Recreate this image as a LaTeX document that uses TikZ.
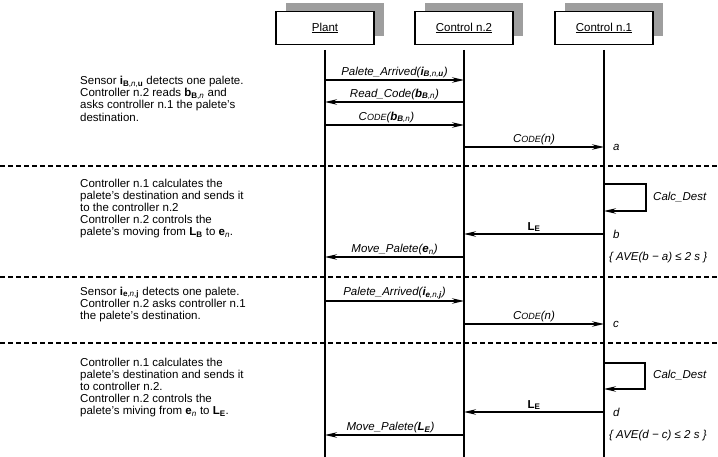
\documentclass[tikz,border=0pt]{standalone}
\usepackage{fontspec}
\setmainfont{Liberation Sans}
\usetikzlibrary{arrows.meta,shadows}
\newcommand{\smcode}{C{\fontsize{9}{10}\selectfont ODE}}
\begin{document}
\begin{tikzpicture}[x=1pt,y=-1pt,
  obj/.style={draw, line width=1.1pt, fill=white, minimum width=98pt, minimum height=33pt, inner sep=0pt,
    font=\fontsize{11.5}{13}\selectfont,
    drop shadow={shadow xshift=10pt, shadow yshift=8pt, fill=black!38, opacity=1}},
  life/.style={line width=1.1pt},
  msg/.style={line width=1.1pt, -{Stealth[length=12pt,width=5.5pt,inset=4pt]}},
  loopmsg/.style={line width=1.1pt, -{Stealth[length=12pt,width=5.5pt,inset=4pt]}},
  lbl/.style={font=\fontsize{11.5}{13}\selectfont\itshape, inner sep=1.5pt},
  sep/.style={dash pattern=on 5pt off 3pt, line width=1.2pt},
  desc/.style={anchor=north west, align=left, inner sep=0pt, font=\fontsize{11.5}{12.2}\selectfont},
  tag/.style={anchor=west, font=\fontsize{11.5}{13}\selectfont\itshape, inner sep=0pt},
]
\useasboundingbox (0,0) rectangle (718,457);

% objects
\node[obj] (plant) at (325,28) {\underline{Plant}};
\node[obj] (ctwo) at (464,28) {\underline{Control n.2}};
\node[obj] (cone) at (604,28) {\underline{Control n.1}};

% lifelines
\coordinate (pT) at (325,50); \coordinate (pB) at (325,457);
\coordinate (tT) at (464,50); \coordinate (tB) at (464,457);
\coordinate (oT) at (604,50); \coordinate (oB) at (604,457);
\draw[life] (pT) -- (pB);
\draw[life] (tT) -- (tB);
\draw[life] (oT) -- (oB);

% separators
\draw[sep] (0,166) -- (718,166);
\draw[sep] (0,277) -- (718,277);
\draw[sep] (0,343) -- (718,343);

% descriptions
\node[desc] (d1) at (80,76) {Sensor \textbf{i}\textsubscript{\textbf{B},\textit{n},\textbf{u}} detects one palete.\\
Controller n.2 reads \textbf{b}\textsubscript{\textbf{B},\textit{n}} and\\
asks controller n.1 the palete's\\
destination.};
\node[desc] (d2) at (80,178.5) {Controller n.1 calculates the\\
palete's destination and sends it\\
to the controller n.2\\
Controller n.2 controls the\\
palete's moving from \textbf{L}\textsubscript{\textbf{B}} to \textbf{e}\textsubscript{\textit{n}}.};
\node[desc] (d3) at (80,286.5) {Sensor \textbf{i}\textsubscript{\textbf{e},\textit{n},\textbf{j}} detects one palete.\\
Controller n.2 asks controller n.1\\
the palete's destination.};
\node[desc] (d4) at (80,357.5) {Controller n.1 calculates the\\
palete's destination and sends it\\
to controller n.2.\\
Controller n.2 controls the\\
palete's miving from \textbf{e}\textsubscript{\textit{n}} to \textbf{L}\textsubscript{\textbf{E}}.};

% message endpoints
\coordinate (p1) at (325,80);  \coordinate (c1) at (464,80);
\coordinate (c2) at (464,102); \coordinate (p2) at (325,102);
\coordinate (p3) at (325,125); \coordinate (c3) at (464,125);
\coordinate (c4) at (464,147); \coordinate (n4) at (604,147);
\coordinate (n5a) at (604,184); \coordinate (n5b) at (604,211);
\coordinate (n6) at (604,234); \coordinate (c6) at (464,234);
\coordinate (c7) at (464,257); \coordinate (p7) at (325,257);
\coordinate (p8) at (325,301); \coordinate (c8) at (464,301);
\coordinate (c9) at (464,324); \coordinate (n9) at (604,324);
\coordinate (n10a) at (604,363); \coordinate (n10b) at (604,389);
\coordinate (n11) at (604,412); \coordinate (c11) at (464,412);
\coordinate (c12) at (464,435); \coordinate (p12) at (325,435);

% messages
\draw[msg] (p1) -- node[lbl, above] (m1) {Palete\_Arrived(\textbf{i}\textsubscript{\textbf{B},\textit{n},\textbf{u}})} (c1);
\draw[msg] (c2) -- node[lbl, above] (m2) {Read\_Code(\textbf{b}\textsubscript{\textbf{B},\textit{n}})} (p2);
\draw[msg] (p3) -- node[lbl, above, xshift=-8pt] (m3) {\smcode(\textbf{b}\textsubscript{\textbf{B},\textit{n}})} (c3);
\draw[msg] (c4) -- node[lbl, above] (m4) {\smcode(n)} (n4);
\draw[loopmsg] (n5a) -- ++(42,0) |- (n5b);
\node[tag] (cd1) at (653,197) {Calc\_Dest};
\draw[msg] (n6) -- node[lbl, above, font=\fontsize{11.5}{13}\selectfont] (m6) {\textbf{L}\textsubscript{\textbf{E}}} (c6);
\draw[msg] (c7) -- node[lbl, above] (m7) {Move\_Palete(\textbf{e}\textsubscript{\textit{n}})} (p7);
\draw[msg] (p8) -- node[lbl, above] (m8) {Palete\_Arrived(\textbf{i}\textsubscript{\textbf{e},\textit{n},\textbf{j}})} (c8);
\draw[msg] (c9) -- node[lbl, above] (m9) {\smcode(n)} (n9);
\draw[loopmsg] (n10a) -- ++(41,0) |- (n10b);
\node[tag] (cd2) at (653,375) {Calc\_Dest};
\draw[msg] (n11) -- node[lbl, above, font=\fontsize{11.5}{13}\selectfont] (m11) {\textbf{L}\textsubscript{\textbf{E}}} (c11);
\draw[msg] (c12) -- node[lbl, above, xshift=-4pt] (m12) {Move\_Palete(\textbf{L}\textsubscript{\textbf{E}})} (p12);

% time tags
\node[tag] (ta) at (613,147) {a};
\node[tag] (tb) at (613,234) {b};
\node[tag] (tc) at (613,324) {c};
\node[tag] (td) at (613,412) {d};
\node[tag] (ave1) at (609,258) {\{ AVE(b − a) ≤ 2 s \}};
\node[tag] (ave2) at (609,436) {\{ AVE(d − c) ≤ 2 s \}};
\end{tikzpicture}
\end{document}
